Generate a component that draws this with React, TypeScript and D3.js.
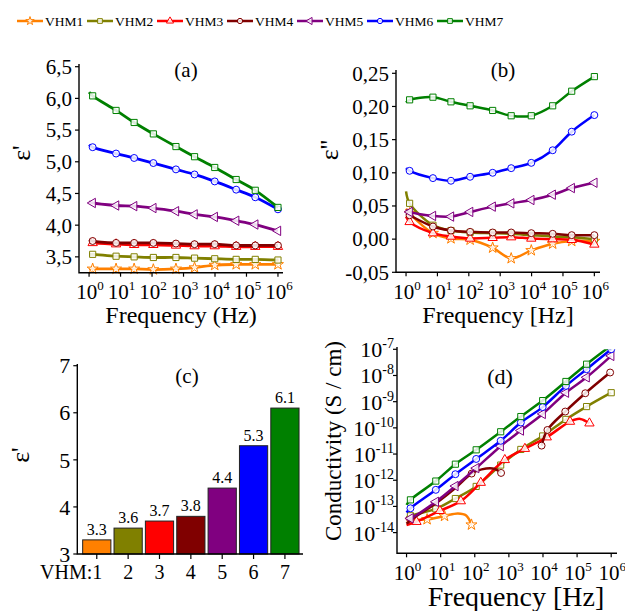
import React, { useEffect, useRef } from 'react';
import * as d3 from 'd3';

// Series definitions
const seriesNames = ['VHM1', 'VHM2', 'VHM3', 'VHM4', 'VHM5', 'VHM6', 'VHM7'];
const seriesColors = ['#ff8000', '#808000', '#ff0000', '#800000', '#800080', '#0000ff', '#008000'];
const seriesMarkers = ['star', 'square', 'triangle', 'circle', 'triangleLeft', 'circle', 'square'];

// Frequency grid (Hz) used by (a), (b) and most of (d)
const freq = [1, 1.3, 7.2, 27, 110, 575, 2240, 9800, 47000, 190000, 1000000];

// (a) real permittivity, one row per VHM
const epsReal = [
  [3.31, 3.31, 3.31, 3.31, 3.30, 3.31, 3.33, 3.37, 3.38, 3.38, 3.38],
  [3.54, 3.54, 3.51, 3.50, 3.49, 3.49, 3.48, 3.47, 3.46, 3.46, 3.45],
  [3.73, 3.72, 3.70, 3.69, 3.69, 3.68, 3.67, 3.67, 3.66, 3.66, 3.66],
  [3.77, 3.75, 3.72, 3.72, 3.72, 3.71, 3.70, 3.70, 3.68, 3.68, 3.68],
  [4.37, 4.35, 4.31, 4.30, 4.27, 4.22, 4.17, 4.13, 4.07, 4.01, 3.91],
  [5.27, 5.23, 5.13, 5.06, 4.98, 4.88, 4.80, 4.69, 4.56, 4.44, 4.25],
  [6.10, 6.04, 5.81, 5.62, 5.44, 5.24, 5.08, 4.91, 4.72, 4.55, 4.28],
];
const epsRealTicks = [3.5, 4.0, 4.5, 5.0, 5.5, 6.0, 6.5];

// (b) imaginary permittivity
const epsImag = [
  [0.046, 0.039, 0.009, 0.001, -0.001, -0.013, -0.029, -0.017, -0.007, -0.003, -0.003],
  [0.072, 0.054, 0.021, 0.013, 0.010, 0.009, 0.008, 0.006, 0.004, 0.003, 0.000],
  [0.034, 0.026, 0.009, 0.004, 0.001, 0.002, 0.003, 0.001, 0.000, -0.001, -0.008],
  [0.039, 0.036, 0.019, 0.013, 0.011, 0.010, 0.010, 0.009, 0.008, 0.006, 0.006],
  [0.044, 0.041, 0.035, 0.034, 0.041, 0.049, 0.054, 0.059, 0.067, 0.077, 0.085],
  [0.107, 0.103, 0.092, 0.088, 0.094, 0.100, 0.107, 0.115, 0.134, 0.162, 0.187],
  [0.206, 0.210, 0.214, 0.207, 0.201, 0.194, 0.186, 0.186, 0.201, 0.223, 0.245],
];
const epsImagTicks = [-0.05, 0, 0.05, 0.1, 0.15, 0.2, 0.25];

// (c) permittivity per sample
const barCategories = ['1', '2', '3', '4', '5', '6', '7'];
const barValues = [3.3, 3.55, 3.7, 3.8, 4.4, 5.3, 6.1];
const barLabels = ['3.3', '3.6', '3.7', '3.8', '4.4', '5.3', '6.1'];
const barTicks = [3, 4, 5, 6, 7];

// (d) conductivity (S/cm); some samples were measured on other frequencies
const condFreq1 = [1, 1.3, 4, 13, 32, 56, 80];
const condFreq3 = [1, 1.95, 9.5, 39, 150, 760, 2950, 12900, 62000, 123000, 230000];
const condFreq4 = [1, 1.4, 7.2, 27, 81, 160, 390, 590, 3000, 9100, 13500, 45000, 174000, 930000];
const condFreq = [condFreq1, freq, condFreq3, condFreq4, freq, freq, freq];
const cond = [
  [2.8e-14, 3.0e-14, 3.2e-14, 4.3e-14, 5.4e-14, 4.5e-14, 2.0e-14],
  [3.8e-14, 4.4e-14, 8.1e-14, 2.0e-13, 5.8e-13, 3.8e-12, 1.5e-11, 4.9e-11, 2.1e-10, 6.5e-10, 2.2e-9],
  [1.95e-14, 2.6e-14, 6.8e-14, 1.6e-13, 8.1e-13, 6.0e-12, 1.6e-11, 4.4e-11, 1.74e-10, 2.2e-10, 1.5e-10],
  [2.2e-14, 3.2e-14, 1.3e-13, 5.0e-13, 1.8e-12, 2.6e-12, 2.7e-12, 1.9e-12, null, 2.1e-11, 8.3e-11, 4.2e-10, 2.1e-9, 1.3e-8],
  [3.2e-14, 3.5e-14, 1.5e-13, 6.0e-13, 2.9e-12, 2.0e-11, 7.9e-11, 3.4e-10, 2.2e-9, 8.5e-9, 5.6e-8],
  [5.9e-14, 8.5e-14, 4.3e-13, 1.7e-12, 6.5e-12, 3.2e-11, 1.6e-10, 6.2e-10, 4.0e-9, 1.74e-8, 1.0e-7],
  [1.15e-13, 1.78e-13, 9.3e-13, 4.1e-12, 1.45e-11, 7.1e-11, 2.7e-10, 1.1e-9, 5.9e-9, 2.7e-8, 1.4e-7],
];
// points drawn without marker in (d)
const condNoMarker = [[0, 4, 5], [0], [0, 9], [0, 1, 2, 3, 5, 6], [0], [0], [0]];

const decades = [0, 1, 2, 3, 4, 5, 6];
const condDecades = [-7, -8, -9, -10, -11, -12, -13, -14];

const FONT = "'Liberation Serif', 'Times New Roman', serif";

type G = d3.Selection<SVGGElement, unknown, null, undefined>;

const markerPath = (kind: string, size: number) => {
  const sym =
    kind === 'star' ? d3.symbolStar :
    kind === 'square' ? d3.symbolSquare :
    kind === 'circle' ? d3.symbolCircle : d3.symbolTriangle;
  return d3.symbol(sym, size)() as string;
};

const drawMarker = (g: G, kind: string, color: string, x: number, y: number, size = 38) => {
  g.append('path')
    .attr('d', markerPath(kind, size))
    .attr('transform', `translate(${x},${y})${kind === 'triangleLeft' ? ' rotate(-90)' : ''}`)
    .style('fill', '#fff')
    .style('fill-opacity', 0.85)
    .style('stroke', color)
    .style('stroke-width', 1);
};

// "10" with a superscript exponent
const powLabel = (t: d3.Selection<SVGTextElement, unknown, null, undefined>, exp: number, sup: number, raise: number) => {
  t.append('tspan').text('10');
  t.append('tspan').attr('dy', -raise).style('font-size', `${sup}px`).text(`${exp}`);
};

const frame = (g: G, x0: number, x1: number, yBottom: number, yTop: number) => {
  g.append('path')
    .attr('d', `M${x0},${yTop}V${yBottom}H${x1}`)
    .style('fill', 'none')
    .style('stroke', '#000')
    .style('stroke-width', 1.4);
};

const App: React.FC = () => {
  const svgRef = useRef<SVGSVGElement>(null);

  useEffect(() => {
    if (!svgRef.current) return;
    const svg = d3.select(svgRef.current);
    svg.selectAll('*').remove();
    const root = svg.append('g').style('font-family', FONT) as unknown as G;

    // Legend
    seriesNames.forEach((name, i) => {
      const lx = 17 + i * 70;
      const item = root.append('g');
      item.append('line')
        .attr('x1', lx).attr('x2', lx + 26).attr('y1', 21).attr('y2', 21)
        .style('stroke', seriesColors[i]).style('stroke-width', 2.5);
      drawMarker(item, seriesMarkers[i], seriesColors[i], lx + 13, 21, 22);
      item.append('text')
        .attr('x', lx + 28).attr('y', 25.5)
        .style('font-size', '13.5px')
        .text(name);
    });

    // Generic frequency panel (a), (b), (d)
    const linePanel = (opts: {
      x: d3.ScaleLogarithmic<number, number>;
      y: d3.ScaleContinuousNumeric<number, number>;
      xs: number[][];
      ys: (number | null)[][];
      noMarker: number[][] | null;
      lineWidth: number;
      clipId?: string;
    }) => {
      const g = root.append('g');
      if (opts.clipId) {
        const [x0, x1] = opts.x.range();
        const [y0, y1] = opts.y.range();
        svg.append('clipPath').attr('id', opts.clipId)
          .append('rect').attr('x', x0).attr('y', y1).attr('width', x1 - x0).attr('height', y0 - y1);
        g.attr('clip-path', `url(#${opts.clipId})`);
      }
      opts.ys.forEach((vals, s) => {
        const pts = vals.map((v, i) => [opts.xs[s][i], v] as [number, number | null]);
        const line = d3.line<[number, number | null]>()
          .defined(d => d[1] !== null)
          .x(d => opts.x(d[0]))
          .y(d => opts.y(d[1] as number))
          .curve(d3.curveCatmullRom.alpha(0.5));
        g.append('path')
          .attr('d', line(pts))
          .style('fill', 'none')
          .style('stroke', seriesColors[s])
          .style('stroke-width', opts.lineWidth);
        pts.forEach((p, i) => {
          if (p[1] === null) return;
          const skip = opts.noMarker ? opts.noMarker[s].includes(i) : i === 0;
          if (skip) return;
          drawMarker(g, seriesMarkers[s], seriesColors[s], opts.x(p[0]), opts.y(p[1]));
        });
      });
      return g;
    };

    const xTicksLog = (x: d3.ScaleLogarithmic<number, number>, yAxis: number, baseline: number, size: number, sup: number) => {
      decades.forEach(e => {
        const px = x(10 ** e);
        root.append('line')
          .attr('x1', px).attr('x2', px).attr('y1', yAxis).attr('y2', yAxis + 4)
          .style('stroke', '#000').style('stroke-width', 1.2);
        const t = root.append('text')
          .attr('x', px + 1).attr('y', baseline)
          .attr('text-anchor', 'middle')
          .style('font-size', `${size}px`);
        powLabel(t, e, sup, 9);
      });
    };

    const yTicksLinear = (y: d3.ScaleLinear<number, number>, ticks: number[], xAxis: number, size: number, fmt: (v: number) => string) => {
      ticks.forEach(v => {
        const py = y(v);
        root.append('line')
          .attr('x1', xAxis - 4).attr('x2', xAxis).attr('y1', py).attr('y2', py)
          .style('stroke', '#000').style('stroke-width', 1.2);
        root.append('text')
          .attr('x', xAxis - 7).attr('y', py).attr('dy', '0.35em')
          .attr('text-anchor', 'end')
          .style('font-size', `${size}px`)
          .text(fmt(v));
      });
    };

    const commaFmt = (p: number) => (v: number) => d3.format(`.${p}f`)(v).replace('.', ',').replace('−', '-');

    const yTitle = (text: string, cx: number, cy: number, size: number) => {
      root.append('text')
        .attr('transform', `translate(${cx},${cy}) rotate(-90)`)
        .attr('text-anchor', 'middle')
        .attr('dy', '0.35em')
        .style('font-size', `${size}px`)
        .text(text);
    };

    const label = (text: string, x: number, y: number, size: number) => {
      root.append('text')
        .attr('x', x).attr('y', y)
        .attr('text-anchor', 'middle')
        .style('font-size', `${size}px`)
        .text(text);
    };

    // ---- (a) ----
    const xA = d3.scaleLog().domain([10 ** -0.32, 10 ** 6.16]).range([79, 283]);
    const yA = d3.scaleLinear().domain([3.25, 6.5]).range([272.7, 66.7]);
    linePanel({ x: xA, y: yA, xs: epsReal.map(() => freq), ys: epsReal, noMarker: null, lineWidth: 2.8 });
    frame(root, 79, 283, 272.7, 64);
    yTicksLinear(yA, epsRealTicks, 79, 21, commaFmt(1));
    xTicksLog(xA, 272.7, 299, 21, 13);
    label('(a)', 186, 77, 21);
    label('Frequency (Hz)', 181, 323, 24);
    yTitle("ε'", 21, 153, 26);

    // ---- (b) ----
    const xB = d3.scaleLog().domain([10 ** -0.32, 10 ** 6.18]).range([396, 600]);
    const yB = d3.scaleLinear().domain([-0.05, 0.25]).range([272.3, 73.3]);
    linePanel({ x: xB, y: yB, xs: epsImag.map(() => freq), ys: epsImag, noMarker: null, lineWidth: 2.5 });
    frame(root, 396, 600, 272.3, 70);
    yTicksLinear(yB, epsImagTicks, 396, 21, commaFmt(2));
    xTicksLog(xB, 272.3, 299, 21, 13);
    label('(b)', 503, 77, 21);
    label('Frequency [Hz]', 498, 323, 24);
    yTitle("ε''", 329, 150, 26);

    // ---- (c) ----
    const xC = d3.scaleBand().domain(barCategories).range([81.1, 300.6]).paddingInner(0.1).paddingOuter(0.05);
    const yC = d3.scaleLinear().domain([3, 7]).range([554, 365.7]);
    barCategories.forEach((c, i) => {
      const bx = xC(c) as number;
      root.append('rect')
        .attr('x', bx).attr('y', yC(barValues[i]))
        .attr('width', xC.bandwidth()).attr('height', yC(3) - yC(barValues[i]))
        .style('fill', seriesColors[i])
        .style('stroke', '#222')
        .style('stroke-width', 1);
      root.append('text')
        .attr('x', bx + xC.bandwidth() / 2).attr('y', yC(barValues[i]) - 5)
        .attr('text-anchor', 'middle')
        .style('font-size', '16px')
        .text(barLabels[i]);
      const cx = bx + xC.bandwidth() / 2;
      root.append('line')
        .attr('x1', cx).attr('x2', cx).attr('y1', 554).attr('y2', 559)
        .style('stroke', '#000').style('stroke-width', 1.2);
      root.append('text')
        .attr('x', i === 0 ? cx + 5.5 : cx).attr('y', 579)
        .attr('text-anchor', i === 0 ? 'end' : 'middle')
        .style('font-size', '20px')
        .text(i === 0 ? `VHM:${c}` : c);
    });
    frame(root, 77.3, 303, 554, 364);
    yTicksLinear(yC, barTicks, 77.3, 22, v => `${v}`);
    label('(c)', 187, 383, 21);
    yTitle("ε'", 20, 455, 26);

    // ---- (d) ----
    const xD = d3.scaleLog().domain([10 ** -0.28, 10 ** 6.17]).range([397, 617]);
    const yD = d3.scaleLog().domain([10 ** -14.79, 1e-7]).range([553.3, 349.3]);
    linePanel({ x: xD, y: yD, xs: condFreq, ys: cond, noMarker: condNoMarker, lineWidth: 2.5, clipId: 'clip-d' });
    frame(root, 397, 617, 553.3, 347);
    condDecades.forEach(e => {
      const py = yD(10 ** e);
      root.append('line')
        .attr('x1', 393).attr('x2', 397).attr('y1', py).attr('y2', py)
        .style('stroke', '#000').style('stroke-width', 1.2);
      const t = root.append('text')
        .attr('x', 394).attr('y', py + 8)
        .attr('text-anchor', 'end')
        .style('font-size', '22px');
      powLabel(t, e, 14, 9);
    });
    xTicksLog(xD, 553.3, 580, 21, 13);
    label('(d)', 500, 384, 22);
    label('Frequency [Hz]', 516, 606, 28);
    yTitle('Conductivity (S / cm)', 333, 441, 23);
  }, []);

  return (
    <svg
      ref={svgRef}
      width={625}
      height={611}
      style={{ position: 'absolute', left: 0, top: 0, background: '#fff' }}
    />
  );
};

export default App;
